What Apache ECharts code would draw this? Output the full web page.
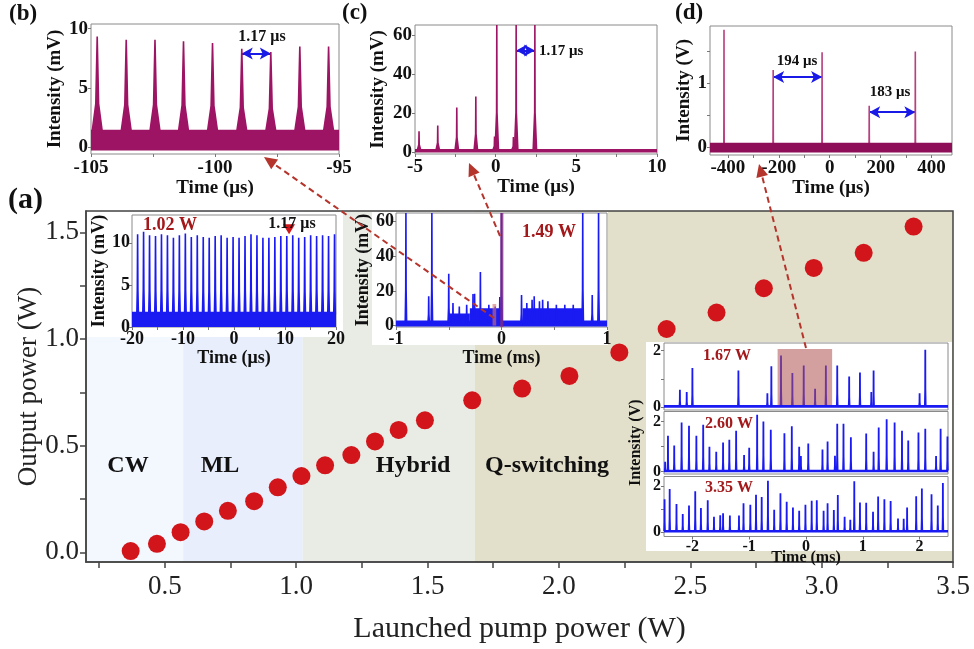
<!DOCTYPE html>
<html><head><meta charset="utf-8">
<script src="https://cdn.jsdelivr.net/npm/echarts@6/dist/echarts.min.js"></script>
<style>html,body{margin:0;padding:0;background:#fff}#c{width:974px;height:649px}</style>
</head><body><div id="c"></div><script>
// ---------- main chart (a) ----------
const pumpPower = [0.37,0.47,0.56,0.65,0.74,0.84,0.93,1.02,1.11,1.21,1.30,1.39,1.49,1.67,1.86,2.04,2.23,2.41,2.60,2.78,2.97,3.16,3.35];
const outputPower = [0.006,0.04,0.095,0.145,0.195,0.24,0.305,0.358,0.408,0.456,0.52,0.574,0.619,0.713,0.768,0.827,0.937,1.047,1.124,1.238,1.333,1.404,1.527];
const regionNames = ['CW','ML','Hybrid','Q-switching'];
const regionBounds = [0.2,0.57,1.025,1.68,3.5];
const regionLabelX = [0.36,0.71,1.445,1.955];
const regionLabelY = 0.405;
const mainXTicks = [0.25,0.5,0.75,1,1.25,1.5,1.75,2,2.25,2.5,2.75,3,3.25,3.5];
const mainXLabels = [0.5,1,1.5,2,2.5,3,3.5];
const mainYTicks = [0,0.25,0.5,0.75,1,1.25,1.5];
const mainYLabels = [0,0.5,1,1.5];
// ---------- inset (b) ----------
const bTimes = [-104.75,-103.58,-102.42,-101.27,-100.1,-98.92,-97.75,-96.58,-95.42];
const bHeights = [9.35,9.07,9.07,8.93,8.79,8.31,8.03,8.5,8.5];
const bBaseline = [-0.3,1.45];
// ---------- inset (c) ----------
const cTimes = [-4.75,-3.59,-2.41,-1.23,-0.07,0.07,1.1,1.27,2.43];
const cHeights = [10.6,13.6,22.8,28.4,8,70,7.7,70,70];
const cBaseline = [-0.2,1.6];
// ---------- inset (d) ----------
const dTimes = [-415,-222,-30,155,336];
const dHeights = [1.84,1.21,1.49,0.65,1.50];
const dBaseline = [-0.08,0.07];
// ---------- inset 1.02 W ----------
const m1Times = [-18.9,-17.73,-16.56,-15.39,-14.22,-13.05,-11.88,-10.71,-9.54,-8.37,-7.2,-6.03,-4.86,-3.69,-2.52,-1.35,-0.18,0.99,2.16,3.33,4.5,5.67,6.84,8.01,9.18,10.35,11.52,12.69,13.86,15.03,16.2,17.37,18.54,19.71];
const m1Heights = [11.0,11.3,10.9,10.8,11.0,10.9,10.6,10.9,11.1,10.7,10.9,10.7,10.6,10.8,10.9,10.6,10.7,10.6,10.8,11.0,10.9,10.6,10.6,10.7,10.8,10.8,10.9,10.6,10.7,10.9,10.8,10.9,10.8,11.0];
const m1Baseline = [0,1.8];
// ---------- inset 1.49 W ----------
const m2Times = [-0.906,-0.69,-0.66,-0.5,-0.46,-0.4,-0.33,-0.27,-0.255,-0.2,-0.12,-0.06,-0.016,0.0,0.19,0.24,0.29,0.31,0.36,0.39,0.44,0.52,0.6,0.68,0.77,0.86,0.92];
const m2Heights = [70,16.9,70,29.9,13,11,12,18.2,18.4,30.9,12,11,16.5,70,17.6,13,15,16.9,14,15,14,12,12,12,70,17.6,70];
const m2Baseline = [-0.5,3];
const m2NoiseStart = [-0.5,-0.3,0.2];
const m2NoiseEnd = [-0.3,0.0,0.77];
const m2NoiseLevel = [7,10,10];
// ---------- stacked insets 1.67 / 2.60 / 3.35 W ----------
const r1Times = [-2.22,-2.10,-2.00,-1.19,-0.68,-0.61,-0.44,-0.24,-0.04,0.16,0.35,0.55,0.76,0.95,1.15,1.19,2.0,2.10];
const r1Heights = [0.61,0.53,1.38,1.29,0.49,1.44,1.82,1.2,1.47,0.65,1.47,1.47,1.08,1.22,0.53,1.29,0.49,2.02];
const r2Times = [-2.48,-2.43,-2.32,-2.19,-2.06,-1.93,-1.81,-1.70,-1.58,-1.46,-1.35,-1.23,-1.09,-1.0,-0.86,-0.75,-0.62,-0.38,-0.25,-0.12,-0.09,0.04,0.29,0.38,0.51,0.55,0.66,0.79,1.06,1.19,1.28,1.42,1.56,1.69,1.80,1.98,2.10,2.29,2.37,2.49];
const r2Heights = [0.4,1.43,1.05,1.96,1.83,1.43,1.87,1.0,0.8,1.16,1.27,1.63,0.67,0.96,2.27,2.0,1.67,1.53,1.81,1.0,0.63,1.13,0.89,1.2,0.64,1.91,1.91,1.37,1.52,0.8,1.76,2.09,1.96,1.63,1.24,1.56,1.71,0.63,1.71,1.4];
const r3Times = [-2.49,-2.40,-2.28,-2.17,-2.06,-1.95,-1.85,-1.73,-1.62,-1.51,-1.46,-1.34,-1.18,-1.10,-0.98,-0.88,-0.78,-0.67,-0.56,-0.45,-0.34,-0.23,-0.12,-0.01,0.10,0.19,0.31,0.38,0.49,0.56,0.68,0.78,0.85,0.95,1.06,1.18,1.27,1.38,1.49,1.62,1.72,1.78,1.94,2.04,2.21,2.32,2.41];
const r3Heights = [1.42,1.86,1.21,0.78,1.15,1.76,1.04,1.37,0.66,0.73,0.81,0.72,0.72,1.25,1.18,1.61,1.51,2.22,0.96,1.68,1.31,1.06,0.92,1.18,1.35,1.37,0.92,1.25,0.95,1.6,0.66,0.53,2.19,1.28,1.27,0.88,1.54,1.42,1.34,0.59,0.58,1.06,1.55,1.88,1.63,1.15,2.12];
const rBaseline = [-0.02,0.08];
const rXLabels = [-2,-1,0,1,2];

const F = 'Liberation Serif';
const MAG = '#9c1463', BLUE = '#1a1af2', DRED = '#a3181a', ABLUE = '#1a1ae6', ARED = '#b5342c';

// grids: 0 main, 1 b, 2 c, 3 d, 4 m1, 5 m2, 6 r1, 7 r2, 8 r3
const grids = [
  {left:86, top:211, width:867, height:355, show:true, borderColor:'#444', borderWidth:1.5, z:2},
  {left:91, top:24, width:248, height:130},
  {left:415, top:25, width:242, height:129},
  {left:710, top:26, width:242, height:129},
  {left:132, top:215, width:204, height:112},
  {left:396, top:213, width:211, height:114},
  {left:664, top:343, width:284, height:67},
  {left:664, top:411.5, width:284, height:62.5},
  {left:664, top:476.5, width:284, height:60}
].map((g,i)=> i===0 ? g : Object.assign({show:true, borderColor:'#8a8a8a', borderWidth:1, z:4}, g));

function insetAxis(gi, min, max, labels, ticks, fs, margin, extra){
  return Object.assign({
    type:'value', gridIndex:gi, min:min, max:max, z:4,
    axisLine:{show:false, onZero:false}, splitLine:{show:false},
    axisTick:{show:true, customValues:ticks, length:3, lineStyle:{color:'#777'}},
    axisLabel:{show:true, customValues:labels, fontFamily:F, fontWeight:'bold', fontSize:fs, color:'#111', margin:margin},
    nameTextStyle:{fontFamily:F, fontWeight:'bold', fontSize:fs, color:'#111'}
  }, extra||{});
}
const noTicks = {axisLabel:{show:false}, axisTick:{show:false}, axisLine:{show:false, onZero:false}};

const xAxes = [
  {type:'value', gridIndex:0, min:0.2, max:3.5, z:2,
   axisLine:{show:true, onZero:false, lineStyle:{color:'#444', width:1.5}}, splitLine:{show:false},
   axisTick:{show:true, customValues:mainXTicks, length:6, lineStyle:{color:'#444', width:1.5}},
   axisLabel:{customValues:mainXLabels, formatter:v=>v.toFixed(1), fontFamily:F, fontSize:27, color:'#222', margin:11},
   name:'Launched pump power (W)', nameLocation:'middle', nameGap:52, nameTextStyle:{fontFamily:F, fontSize:30, color:'#222'}},
  insetAxis(1,-105,-95,[-105,-100,-95],[-105,-102.5,-100,-97.5,-95],19,5,{name:'Time (μs)', nameLocation:'middle', nameGap:21}),
  insetAxis(2,-5,10,[-5,0,5,10],[-5,-2.5,0,2.5,5,7.5,10],19,4,{name:'Time (μs)', nameLocation:'middle', nameGap:21}),
  insetAxis(3,-470,480,[-400,-200,0,200,400],[-400,-300,-200,-100,0,100,200,300,400],19,4,{name:'Time (μs)', nameLocation:'middle', nameGap:20}),
  insetAxis(4,-20,20,[-20,-10,0,10,20],[-20,-15,-10,-5,0,5,10,15,20],18,3,{name:'Time (μs)', nameLocation:'middle', nameGap:12}),
  insetAxis(5,-1,1,[-1,0,1],[-1,-0.5,0,0.5,1],18,3,{name:'Time (ms)', nameLocation:'middle', nameGap:18}),
  insetAxis(6,-2.5,2.5,rXLabels,rXLabels,16,3,noTicks),
  insetAxis(7,-2.5,2.5,rXLabels,rXLabels,16,3,noTicks),
  insetAxis(8,-2.5,2.5,rXLabels,rXLabels,16,2,{name:'Time (ms)', nameLocation:'middle', nameGap:13, nameMoveOverlap:false})
];
const yAxes = [
  {type:'value', gridIndex:0, min:-0.045, max:1.6, z:2,
   axisLine:{show:true, onZero:false, lineStyle:{color:'#444', width:1.5}}, splitLine:{show:false},
   axisTick:{show:true, customValues:mainYTicks, length:6, lineStyle:{color:'#444', width:1.5}},
   axisLabel:{customValues:mainYLabels, formatter:v=>v.toFixed(1), fontFamily:F, fontSize:27, color:'#222', margin:7},
   name:'Output power (W)', nameLocation:'middle', nameGap:44, nameMoveOverlap:false,
   nameTextStyle:{fontFamily:F, fontSize:27, color:'#222'}},
  insetAxis(1,-0.6,10.4,[0,5,10],[0,5,10],19,3,{name:'Intensity (mV)', nameLocation:'middle', nameGap:26}),
  insetAxis(2,-1,65,[0,20,40,60],[0,20,40,60],19,3,{name:'Intensity (mV)', nameLocation:'middle', nameGap:27}),
  insetAxis(3,-0.12,1.9,[0,1],[0,0.5,1,1.5],19,3,{name:'Intensity (V)', nameLocation:'middle', nameGap:12}),
  insetAxis(4,0,13.3,[0,5,10],[0,5,10],18,2,{name:'Intensity (mV)', nameLocation:'middle', nameGap:19}),
  insetAxis(5,-0.8,65,[0,20,40,60],[0,20,40,60],18,2,{name:'Intensity (mV)', nameLocation:'middle', nameGap:17}),
  insetAxis(6,-0.1,2.26,[0,2],[0,1,2],16,3),
  insetAxis(7,-0.09,2.4,[0,2],[0,1,2],16,3,{name:'Intensity (V)', nameLocation:'middle', nameGap:20}),
  insetAxis(8,-0.19,2.4,[0,2],[0,1,2],16,3)
];

function spikes(gi, times, heights, o){
  return {
    type:'custom', xAxisIndex:gi, yAxisIndex:gi, z:o.z||5, silent:true,
    data: times.map((t,i)=>[t, heights[i]]),
    renderItem:(params, api)=>{
      const t = api.value(0), h = Math.min(api.value(1), o.top);
      const p0 = api.coord([t, o.base]), p1 = api.coord([t, h]);
      const ym = p0[1] + (p1[1]-p0[1])*0.3;
      return {type:'polygon', shape:{points:[
        [p0[0]-o.wb, p0[1]], [p0[0]-o.wm, ym], [p1[0]-o.wt, p1[1]],
        [p1[0]+o.wt, p1[1]], [p0[0]+o.wm, ym], [p0[0]+o.wb, p0[1]]]},
        style:{fill:o.color}};
    }
  };
}
// rectangles given as rows [x0, x1, y0, y1]
function rects(gi, rows, color, opacity, z){
  return {
    type:'custom', xAxisIndex:gi, yAxisIndex:gi, z:z, silent:true, data:rows,
    renderItem:(params, api)=>{
      const a = api.coord([api.value(0), api.value(3)]), b = api.coord([api.value(1), api.value(2)]);
      return {type:'rect', shape:{x:a[0], y:a[1], width:b[0]-a[0], height:b[1]-a[1]},
        style:{fill:color, opacity:opacity}};
    }
  };
}
function helper(gi, z, extra){
  return Object.assign({type:'line', xAxisIndex:gi, yAxisIndex:gi, data:[], z:z, silent:true, symbol:'none'}, extra);
}
function arrowMarks(pairs, ys){
  return {symbol:['arrow','arrow'], symbolSize:[9,11], silent:true, label:{show:false},
    lineStyle:{color:ABLUE, width:2, type:'solid'},
    data: pairs.map((p,i)=>[{coord:[p[0],ys[i]]},{coord:[p[1],ys[i]]}])};
}

const series = [
  // main background regions
  helper(0, 1, {markArea:{silent:true, data: regionNames.map((n,i)=>[
    {xAxis:regionBounds[i], itemStyle:{color:['#f3f7fe','#e8eefc','#e8ece5','#e2dfca'][i]}},
    {xAxis:regionBounds[i+1]}])}}),
  {type:'scatter', xAxisIndex:0, yAxisIndex:0, z:8, symbolSize:18,
   itemStyle:{color:'#d1151a', opacity:1}, data: pumpPower.map((p,i)=>[p, outputPower[i]])},
  {type:'scatter', xAxisIndex:0, yAxisIndex:0, z:8, symbolSize:0, silent:true, itemStyle:{opacity:1},
   label:{show:true, position:'inside', formatter:p=>p.name, fontFamily:F, fontWeight:'bold', fontSize:24, color:'#111'},
   data: regionNames.map((n,i)=>({name:n, value:[regionLabelX[i], regionLabelY]}))},
  // (b)
  rects(1, [[-105,-95,bBaseline[0],bBaseline[1]]], MAG, 1, 5),
  spikes(1, bTimes, bHeights, {base:1.2, top:10.4, wb:6, wm:2.2, wt:0.8, color:MAG}),
  helper(1, 6, {markLine:arrowMarks([[-98.92,-97.75]],[7.9])}),
  // (c)
  rects(2, [[-5,10,cBaseline[0],cBaseline[1]]], MAG, 1, 5),
  spikes(2, cTimes, cHeights, {base:1, top:65, wb:2.5, wm:1, wt:0.8, color:MAG}),
  helper(2, 6, {markLine:arrowMarks([[1.27,2.43]],[52])}),
  // (d)
  rects(3, [[-470,480,dBaseline[0],dBaseline[1]]], '#8e0f58', 1, 6),
  spikes(3, dTimes, dHeights, {base:0, top:1.9, wb:1, wm:0.9, wt:0.8, color:'#b8407f'}),
  helper(3, 6, {markLine:arrowMarks([[-222,-30],[155,336]],[1.1,0.55])}),
  // 1.02 W
  rects(4, [[-20,20,m1Baseline[0],m1Baseline[1]]], BLUE, 1, 5),
  spikes(4, m1Times, m1Heights, {base:1.5, top:13.3, wb:1.6, wm:1.1, wt:0.8, color:BLUE}),
  helper(4, 6, {markPoint:{silent:true, symbol:'triangle', symbolRotate:180, symbolSize:[12,10], itemStyle:{color:'#d0161a'},
      label:{show:false}, data:[{coord:[10.8,11.6]}]}}),
  // 1.49 W
  rects(5, [[-1,1,-0.5,m2Baseline[1]]].concat(m2NoiseStart.map((s,i)=>[s, m2NoiseEnd[i], 0, m2NoiseLevel[i]])), BLUE, 1, 5),
  spikes(5, m2Times, m2Heights, {base:2, top:65, wb:1.5, wm:1, wt:0.8, color:BLUE}),
  rects(5, [[-0.012,0.018,-0.8,65]], '#8a2e78', 0.75, 7),
  rects(5, [[-0.085,-0.05,0,12.5]], '#d27070', 0.6, 7),
  // 1.67 W
  rects(6, [[-2.5,2.5,rBaseline[0],rBaseline[1]]], BLUE, 1, 5),
  spikes(6, r1Times, r1Heights, {base:0.05, top:2.26, wb:1.3, wm:1, wt:0.9, color:BLUE}),
  rects(6, [[-0.5,0.46,0.08,2.05]], '#b05050', 0.55, 7),
  // 2.60 W
  rects(7, [[-2.5,2.5,rBaseline[0],rBaseline[1]]], BLUE, 1, 5),
  spikes(7, r2Times, r2Heights, {base:0.05, top:2.4, wb:1.3, wm:1, wt:0.9, color:BLUE}),
  // 3.35 W
  rects(8, [[-2.5,2.5,rBaseline[0],rBaseline[1]+0.01]], BLUE, 1, 5),
  spikes(8, r3Times, r3Heights, {base:0.05, top:2.4, wb:1.3, wm:1, wt:0.9, color:BLUE})
];

function txt(x, y, s, size, color, align){
  return {type:'text', x:x, y:y, z:12, silent:true,
    style:{text:s, fontFamily:F, fontWeight:'bold', fontSize:size, fill:color||'#111',
      align:align||'center', verticalAlign:'middle'}};
}
function dashedArrow(x1,y1,x2,y2){
  const dx=x2-x1, dy=y2-y1, L=Math.hypot(dx,dy), ux=dx/L, uy=dy/L;
  const bx=x2-ux*13, by=y2-uy*13, nx=-uy, ny=ux;
  return [
    {type:'line', z:11, silent:true, shape:{x1:x1,y1:y1,x2:bx,y2:by},
     style:{stroke:ARED, lineWidth:2, lineDash:[6,4]}},
    {type:'polygon', z:11, silent:true, shape:{points:[[x2,y2],[bx+nx*6,by+ny*6],[bx-nx*6,by-ny*6]]},
     style:{fill:ARED}}
  ];
}
const graphics = [
  {type:'rect', z:3, silent:true, shape:{x:87, y:212, width:256, height:125}, style:{fill:'#fff'}},
  {type:'rect', z:3, silent:true, shape:{x:372, y:212, width:236, height:133}, style:{fill:'#fff'}},
  {type:'rect', z:3, silent:true, shape:{x:646, y:342, width:306, height:209}, style:{fill:'#fff'}},
  txt(8, 200, '(a)', 30, '#111', 'left'),
  txt(9, 14, '(b)', 23, '#111', 'left'),
  txt(342, 13, '(c)', 23, '#111', 'left'),
  txt(675, 13, '(d)', 23, '#111', 'left'),
  txt(262, 37, '1.17 μs', 16),
  txt(539, 51, '1.17 μs', 15, '#111', 'left'),
  txt(797, 61, '194 μs', 15),
  txt(890, 92, '183 μs', 15),
  txt(143, 225, '1.02 W', 18, DRED, 'left'),
  txt(292, 224, '1.17 μs', 16),
  txt(549, 232, '1.49 W', 18, DRED),
  txt(727, 356, '1.67 W', 16, DRED),
  txt(729, 424, '2.60 W', 16, DRED),
  txt(729, 488, '3.35 W', 16, DRED)
].concat(dashedArrow(494,318,264,157), dashedArrow(500,236,469,163), dashedArrow(806,348,759,164));

const chart = echarts.init(document.getElementById('c'), null, {renderer:'canvas'});
chart.setOption({
  animation:false, backgroundColor:'#fff',
  grid:grids, xAxis:xAxes, yAxis:yAxes, series:series, graphic:graphics
});
</script></body></html>
